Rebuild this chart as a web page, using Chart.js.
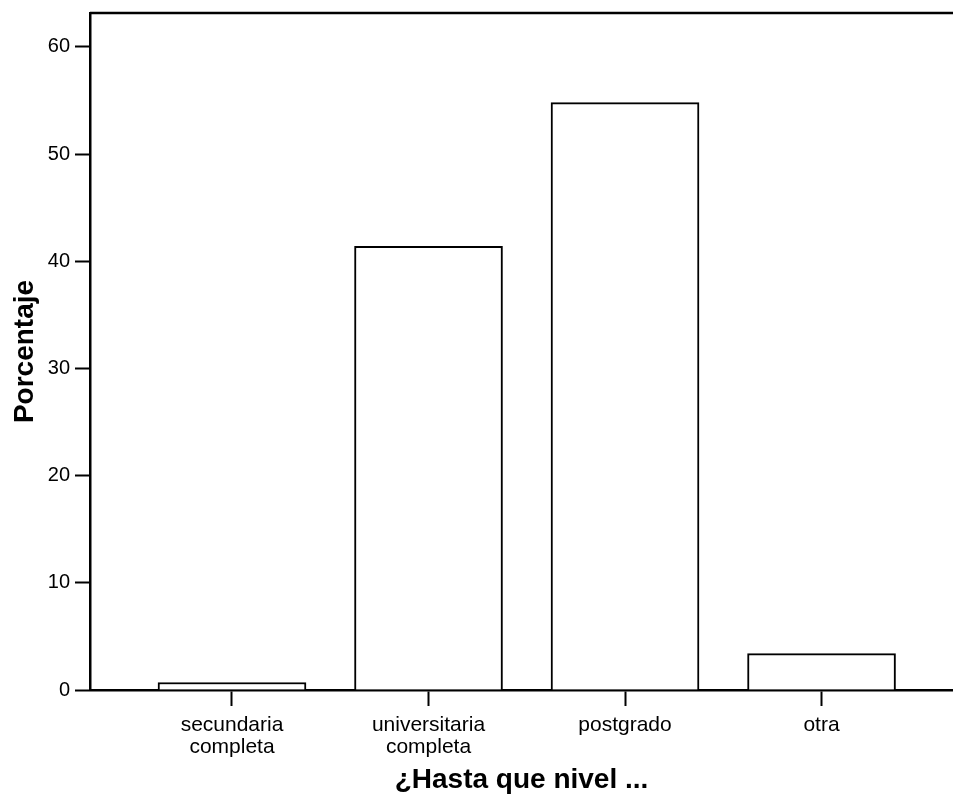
<!DOCTYPE html>
<html>
<head>
<meta charset="utf-8">
<script src="https://cdn.jsdelivr.net/npm/chart.js@4"></script>
<style>
  html, body { margin: 0; padding: 0; background: #fff; }
  #wrap { width: 953px; height: 800px; }
</style>
</head>
<body>
<div id="wrap"><canvas id="c" width="953" height="800"></canvas></div>
<script>
const categories = [["secundaria", "completa"], ["universitaria", "completa"], ["postgrado"], ["otra"]];
const positions = [1, 2, 3, 4];
const percentages = [0.7, 41.4, 54.8, 3.4];
const yTicks = [0, 10, 20, 30, 40, 50, 60];
const xTitle = "¿Hasta que nivel ...";
const yTitle = "Porcentaje";

const FONT = "'Liberation Sans', Arial, Helvetica, sans-serif";

const topLine = {
  id: 'topLine',
  afterDraw(chart) {
    const { ctx, chartArea } = chart;
    ctx.save();
    ctx.strokeStyle = '#000';
    ctx.lineWidth = 2.5;
    ctx.beginPath();
    ctx.moveTo(chartArea.left, chartArea.top);
    ctx.lineTo(chartArea.right, chartArea.top);
    ctx.stroke();
    ctx.restore();
  }
};

new Chart(document.getElementById('c'), {
  type: 'bar',
  data: {
    datasets: [{
      data: positions.map((x, i) => ({ x: x, y: percentages[i] })),
      backgroundColor: '#ffffff',
      borderColor: '#000000',
      borderWidth: 2,
      borderSkipped: 'bottom',
      barThickness: 148
    }]
  },
  options: {
    responsive: false,
    animation: false,
    devicePixelRatio: 1,
    layout: { padding: { top: 13, right: 0, left: 0, bottom: 0 } },
    plugins: { legend: { display: false }, tooltip: { enabled: false } },
    scales: {
      x: {
        type: 'linear',
        offset: false,
        min: 0.2774,
        max: 4.669,
        afterBuildTicks(scale) { scale.ticks = positions.map(v => ({ value: v })); },
        afterFit(scale) { scale.height = 110; scale.paddingLeft = 0; scale.paddingRight = 0; },
        grid: { display: true, offset: false, drawOnChartArea: false, drawTicks: true, tickLength: 16, tickColor: '#000', tickWidth: 2 },
        border: { display: true, color: '#000', width: 2.5 },
        ticks: {
          color: '#000',
          font: { family: FONT, size: 21, lineHeight: 1.05 },
          padding: 8,
          maxRotation: 0,
          autoSkip: false,
          callback(value) {
            const i = positions.indexOf(value);
            return i >= 0 ? categories[i] : '';
          }
        },
        title: {
          display: true,
          text: xTitle,
          color: '#000',
          font: { family: FONT, size: 28, weight: 'bold' },
          padding: { top: 0, bottom: 3 }
        }
      },
      y: {
        min: 0,
        max: 63.17,
        afterBuildTicks(scale) { scale.ticks = yTicks.map(v => ({ value: v })); },
        afterFit(scale) { scale.width = 90; scale.paddingTop = 0; scale.paddingBottom = 0; },
        grid: { display: true, drawOnChartArea: false, drawTicks: true, tickLength: 15, tickColor: '#000', tickWidth: 2 },
        border: { display: true, color: '#000', width: 2.5 },
        ticks: {
          color: '#000',
          font: { family: FONT, size: 20 },
          padding: 5
        },
        title: {
          display: true,
          text: yTitle,
          color: '#000',
          font: { family: FONT, size: 28, weight: 'bold' },
          padding: { top: 8, bottom: 0 }
        }
      }
    }
  },
  plugins: [topLine]
});
</script>
</body>
</html>
